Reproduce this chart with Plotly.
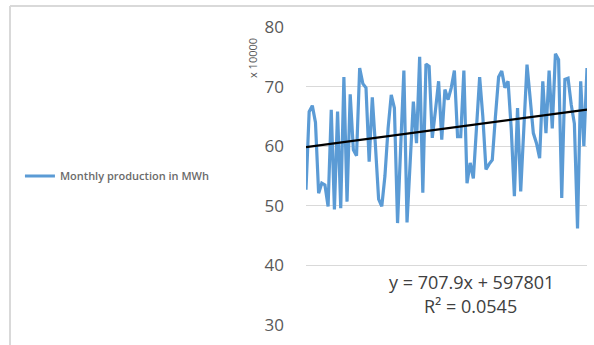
import plotly.graph_objects as go

# Monthly production (in units of 10000 MWh)
production = [
    52.7, 65.8, 66.8, 64.0, 52.1, 53.8, 53.5, 49.9, 66.1, 49.4,
    65.8, 49.6, 71.6, 50.7, 68.7, 59.4, 58.4, 73.1, 70.5, 69.8,
    57.4, 68.2, 60.0, 51.1, 49.9, 55.0, 63.0, 68.6, 66.4, 47.1,
    60.0, 72.7, 47.2, 58.0, 67.5, 60.5, 75.0, 52.2, 73.8, 73.4,
    61.4, 66.0, 70.9, 61.1, 69.5, 67.8, 69.8, 72.7, 61.6, 61.6,
    72.7, 53.8, 57.2, 54.6, 63.0, 71.6, 65.0, 56.1, 57.0, 57.7,
    65.0, 71.6, 72.6, 69.8, 70.9, 63.0, 51.6, 66.4, 52.4, 63.0,
    73.7, 68.0, 62.2, 60.5, 58.0, 70.9, 62.2, 72.7, 63.0, 75.5,
    74.5, 51.3, 71.2, 71.4, 67.0, 63.8, 46.2, 70.9, 60.0, 73.1,
]
months = list(range(1, len(production) + 1))

# Linear trend as printed on the chart: y = 707.9x + 597801 (MWh)
trend_slope = 707.9
trend_intercept = 597801
trend = [(trend_slope * m + trend_intercept) / 10000 for m in months]

y_ticks = [30, 40, 50, 60, 70, 80]
series_name = "Monthly production in MWh"
equation_text = "y = 707.9x + 597801"
r2_text = "R² = 0.0545"

fig = go.Figure()
fig.add_trace(go.Scatter(
    x=months, y=production, mode="lines", name=series_name,
    line=dict(color="#5B9BD5", width=3.2), showlegend=True,
))
fig.add_trace(go.Scatter(
    x=months, y=trend, mode="lines", name="Linear trend",
    line=dict(color="#000000", width=2.2), showlegend=False,
))

fig.update_layout(
    width=594, height=345,
    margin=dict(l=306, r=7, t=27, b=20),
    paper_bgcolor="white", plot_bgcolor="white",
    font=dict(family="Open Sans", color="#595959"),
    xaxis=dict(range=[months[0], months[-1]], showgrid=False, showticklabels=False,
               zeroline=False, showline=False, ticks=""),
    yaxis=dict(range=[30, 80], tickvals=y_ticks, ticktext=[str(v) for v in y_ticks],
               showgrid=True, gridcolor="#D9D9D9", gridwidth=1, zeroline=False,
               showline=False, ticks="", ticklabelstandoff=21,
               tickfont=dict(size=17, color="#595959", family="Open Sans")),
    legend=dict(x=-1.018, xanchor="left", y=0.5, yanchor="middle",
                bgcolor="rgba(0,0,0,0)",
                font=dict(size=11, color="#6b6b6b", family="Open Sans", weight=600)),
    showlegend=True,
)

fig.add_annotation(xref="paper", yref="paper", x=(252 - 306) / 281, y=(345 - 20 - 58) / 298,
                   xanchor="center", yanchor="middle",
                   text="x 10000", showarrow=False, textangle=-90,
                   font=dict(size=11, color="#595959", family="Open Sans"))
fig.add_annotation(xref="paper", yref="paper", x=(471 - 306) / 281, y=(345 - 20 - 282) / 298,
                   xanchor="center", yanchor="middle",
                   text=equation_text, showarrow=False,
                   font=dict(size=18, color="#404040", family="Open Sans"))
fig.add_annotation(xref="paper", yref="paper", x=(470 - 306) / 281, y=(345 - 20 - 306) / 298,
                   xanchor="center", yanchor="middle",
                   text=r2_text, showarrow=False,
                   font=dict(size=18, color="#404040", family="Open Sans"))

# outer chart frame (left and top edges visible in the reference)
fig.add_shape(type="line", xref="paper", yref="paper",
              x0=(10 - 306) / 281, x1=(600 - 306) / 281,
              y0=(345 - 20 - 6) / 298, y1=(345 - 20 - 6) / 298,
              line=dict(color="#D9D9D9", width=2))
fig.add_shape(type="line", xref="paper", yref="paper",
              x0=(10 - 306) / 281, x1=(10 - 306) / 281,
              y0=(345 - 20 - 6) / 298, y1=-0.1,
              line=dict(color="#D9D9D9", width=2))

fig.write_html("out.html")
